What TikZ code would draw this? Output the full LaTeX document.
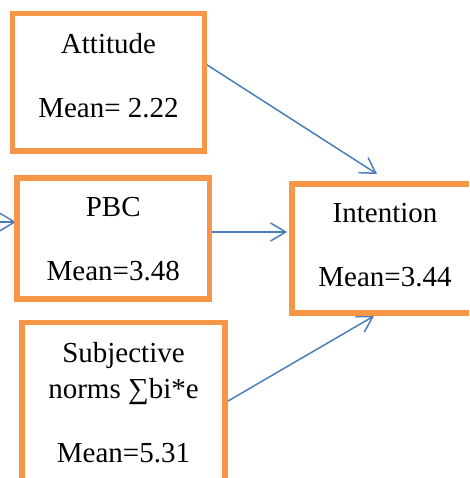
\documentclass[tikz,border=0pt]{standalone}
\usepackage{fontspec}
\setmainfont{Liberation Serif}
\usepackage{tikz}
\usetikzlibrary{positioning,arrows.meta,backgrounds}
\definecolor{boxorange}{HTML}{F79646}
\definecolor{linkblue}{HTML}{4A7EBB}

\begin{document}
\begin{tikzpicture}[x=1pt,y=-1pt,
    box/.style={draw=boxorange,line width=5.5pt,fill=white,inner sep=0pt,outer sep=0pt},
    lbl/.style={align=center,inner sep=0pt,font=\fontsize{29}{36}\selectfont},
    link/.style={draw=linkblue,line width=1.5pt,-{Straight Barb[length=15pt,width=18pt]}}]
  \useasboundingbox (0,0) rectangle (469,478);
  \clip (0,0) rectangle (469,478);

  % the four boxes
  \node[box,minimum width=192pt,minimum height=137.5pt] (att) at (108.5,82.25) {};
  \node[box,minimum width=192.5pt,minimum height=121pt] (pbc) at (113.25,238.5) {};
  \node[box,minimum width=203pt,minimum height=172.5pt] (subj) at (123.5,408.75) {};
  \node[box,minimum width=186pt,minimum height=129pt] (int) at (385,248.5) {};

  \node[lbl,below=19.5pt of att.north] (attT) {Attitude\\[28pt]Mean= 2.22};
  \node[lbl,below=19.5pt of pbc.north] (pbcT) {PBC\\[28pt]Mean=3.48};
  \node[lbl,below=19.5pt of subj.north] (subjT) {Subjective\\norms ∑bi*e\\[28pt]Mean=5.31};
  \node[lbl,below=19.5pt of int.north] (intT) {Intention\\[28pt]Mean=3.44};

  \coordinate (ext) at (-30,222);

  \begin{scope}[on background layer]
    \draw[link] ([yshift=19pt]att.east) -- ([xshift=-8pt,yshift=10pt]int.north);
    \draw[link] ([yshift=6.5pt]pbc.east) -- ([xshift=-5pt,yshift=16.5pt]int.west);
    \draw[link] ([yshift=6pt]subj.east) -- ([xshift=-11pt,yshift=-3pt]int.south);
    \draw[link] (ext) -- ([xshift=-1pt,yshift=16.5pt]pbc.west);
  \end{scope}
\end{tikzpicture}
\end{document}
